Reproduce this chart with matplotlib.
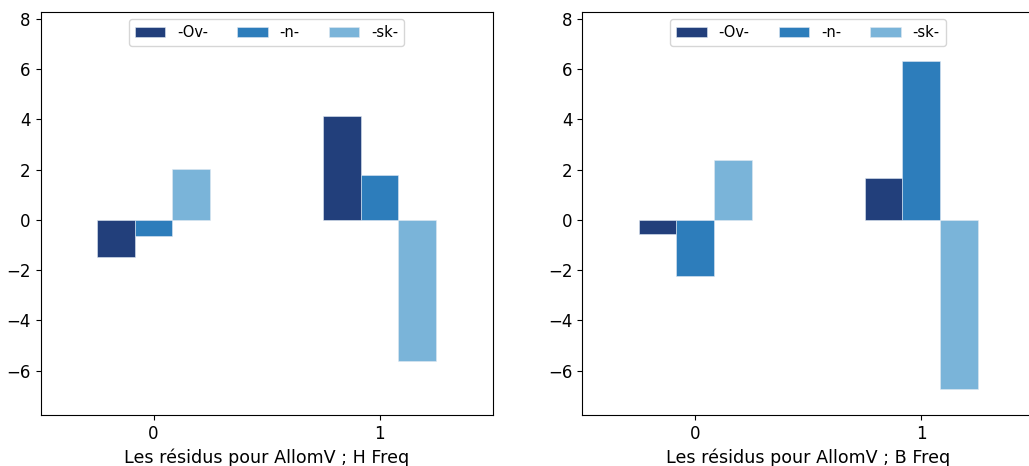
import matplotlib
matplotlib.use("Agg")
import matplotlib.pyplot as plt
from matplotlib import font_manager
import numpy as np

categories = [0, 1]
series_names = ["-Ov-", "-n-", "-sk-"]
colors = ["#223f7b", "#2d7dbb", "#7ab4d9"]

h_freq = {
    "-Ov-": [-1.47, 4.12],
    "-n-": [-0.64, 1.79],
    "-sk-": [2.02, -5.62],
}
b_freq = {
    "-Ov-": [-0.57, 1.65],
    "-n-": [-2.22, 6.31],
    "-sk-": [2.38, -6.73],
}
xlabels = ["Les résidus pour AllomV ; H Freq", "Les résidus pour AllomV ; B Freq"]

names = {f.name for f in font_manager.fontManager.ttflist}
narrow = None
for cand in ["DejaVu Sans Condensed", "Liberation Sans Narrow"]:
    if cand in names:
        narrow = cand
        break

fig = plt.figure(figsize=(10.29, 4.66), dpi=100)
ax1 = fig.add_axes([0.0394, 0.1094, 0.4393, 0.8648])
ax2 = fig.add_axes([0.5656, 0.1094, 0.4393, 0.8648])

width = 0.5 / 3
x = np.arange(len(categories))

for k, (ax, data, xl) in enumerate([(ax1, h_freq, xlabels[0]), (ax2, b_freq, xlabels[1])]):
    for i, name in enumerate(series_names):
        ax.bar(x + (i - 1) * width, data[name], width=width, color=colors[i],
               label=name, edgecolor="#dfe8f2", linewidth=0.4)
    ax.set_xlim(-0.5, 1.5)
    ax.set_ylim(-7.77, 8.28)
    ax.set_xticks(x)
    if k == 1 and narrow is not None:
        ax.set_xticklabels([str(c) for c in categories], fontsize=12,
                           family=[narrow, "DejaVu Sans"])
    else:
        ax.set_xticklabels([str(c) for c in categories], fontsize=12)
    ax.set_yticks([-6, -4, -2, 0, 2, 4, 6, 8])
    ax.tick_params(axis="y", labelsize=12)
    ax.set_xlabel(xl, fontsize=12.6, labelpad=4)
    ax.legend(loc="upper center", ncol=3, fontsize=10.5, handlelength=2.1)

fig.savefig("out.png", dpi=100)
